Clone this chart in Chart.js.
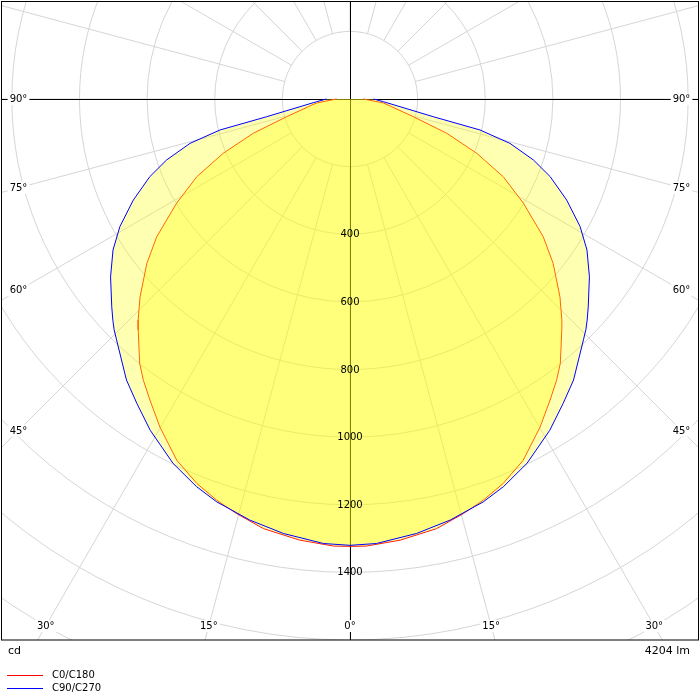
<!DOCTYPE html>
<html>
<head>
<meta charset="utf-8">
<script src="https://cdn.jsdelivr.net/npm/chart.js@4.4.1/dist/chart.umd.min.js"></script>
<style>
    html, body { margin: 0; padding: 0; background: #fff; }
    #wrap { position: relative; width: 700px; height: 700px; }
</style>
</head>
<body>
<div id="wrap"><canvas id="ldcGraph"></canvas></div>
<script>
// gamma angle from nadir (deg) and luminous intensity (cd), both halves symmetric
var c0Angles = [0, 2.1, 6.5, 11.4, 15.3, 18.4, 21.7, 25.6, 30.1, 33.6, 36.3, 38.5, 42.5, 43.8, 46.7, 51, 54.5, 59, 63.1, 66.8, 70.5, 74.4, 79.5, 83.2, 90];
var c0Values = [1323, 1323, 1313, 1296, 1271, 1250, 1224, 1185, 1121, 1069, 1032, 999, 927, 905, 853, 773, 702, 598, 508, 408, 303, 194, 125, 99, 40];
var c90Angles = [0, 3.4, 8.7, 13.4, 18.3, 21.6, 25.9, 31.1, 35, 38.5, 44.1, 45.7, 47, 48.9, 53.4, 57.5, 61, 65, 68.8, 71.6, 74.5, 76.6, 78, 85.4, 90];
var c90Values = [1320, 1317, 1300, 1280, 1255, 1233, 1198, 1144, 1099, 1062, 992, 975, 959, 935, 882, 831, 778, 707, 635, 572, 491, 395, 252, 99, 70];

var ringValues = [200, 400, 600, 800, 1000, 1200, 1400, 1600, 1800, 2000];
var ringLabels = [400, 600, 800, 1000, 1200, 1400];
var angleLabels = [0, 15, 30, 45, 60, 75, 90];
var planeNames = ['C0/C180', 'C90/C270'];
var unitText = 'cd';
var fluxText = '4204 lm';

var FONT = "'DejaVu Sans', sans-serif";
var FILL = 'rgba(255, 255, 0, 0.30)';

function toPoints(angles, values) {
    var pts = [];
    // C180 / C270 half on the left, going down to nadir
    for (var i = values.length - 1; i >= 0; i--) {
        var a = angles[i] * Math.PI / 180;
        pts.push({ x: -values[i] * Math.sin(a), y: -values[i] * Math.cos(a) });
    }
    // C0 / C90 half on the right, back up to 90
    for (var j = 1; j < values.length; j++) {
        var b = angles[j] * Math.PI / 180;
        pts.push({ x: values[j] * Math.sin(b), y: -values[j] * Math.cos(b) });
    }
    return pts;
}

function center(chart) {
    var xs = chart.scales.x, ys = chart.scales.y;
    var cx = xs.getPixelForValue(0);
    var cy = ys.getPixelForValue(0);
    return { cx: cx, cy: cy, k: xs.getPixelForValue(1000) - cx };
}

var polarGrid = {
    id: 'polarGrid',
    beforeDraw: function(chart) {
        var ctx = chart.ctx, area = chart.chartArea;
        var c = center(chart);
        var rMin = ringValues[0] * c.k / 1000;
        var rMax = ringValues[ringValues.length - 1] * c.k / 1000;
        ctx.save();
        ctx.fillStyle = '#fff';
        ctx.fillRect(0, 0, chart.width, chart.height);
        ctx.beginPath();
        ctx.rect(area.left, area.top, area.right - area.left, area.bottom - area.top);
        ctx.clip();
        ctx.strokeStyle = '#d6d6d6';
        ctx.lineWidth = 1;
        ringValues.forEach(function(v) {
            ctx.beginPath();
            ctx.arc(c.cx, c.cy, v * c.k / 1000, 0, Math.PI * 2);
            ctx.stroke();
        });
        for (var a = 0; a < 360; a += 15) {
            var t = a * Math.PI / 180;
            ctx.beginPath();
            ctx.moveTo(c.cx + rMin * Math.sin(t), c.cy + rMin * Math.cos(t));
            ctx.lineTo(c.cx + rMax * Math.sin(t), c.cy + rMax * Math.cos(t));
            ctx.stroke();
        }
        // 0-180 and 90-270 axes
        ctx.strokeStyle = '#000';
        ctx.beginPath();
        ctx.moveTo(Math.round(c.cx) + 0.5, area.top);
        ctx.lineTo(Math.round(c.cx) + 0.5, area.bottom);
        ctx.moveTo(area.left, Math.round(c.cy) + 0.5);
        ctx.lineTo(area.right, Math.round(c.cy) + 0.5);
        ctx.stroke();
        ctx.restore();
    }
};

var polarLabels = {
    id: 'polarLabels',
    afterDraw: function(chart) {
        var ctx = chart.ctx, area = chart.chartArea;
        var c = center(chart);
        ctx.save();
        ctx.font = '10px ' + FONT;
        ctx.textAlign = 'center';
        ctx.textBaseline = 'middle';
        ctx.fillStyle = '#000';

        ringLabels.forEach(function(v) {
            ctx.fillText(String(v), c.cx, c.cy + v * c.k / 1000 + 0.5);
        });

        var xl = area.left + 16.5, xr = area.right - 16.5, yb = area.bottom - 14;
        angleLabels.forEach(function(a) {
            [-1, 1].forEach(function(side) {
                if (a === 0 && side < 0) return;
                var t = a * Math.PI / 180;
                var dx = side * Math.sin(t), dy = Math.cos(t);
                var best = Infinity;
                if (Math.abs(dx) > 1e-6) best = ((side > 0 ? xr : xl) - c.cx) / dx;
                if (dy > 1e-6) best = Math.min(best, (yb - c.cy) / dy);
                var px = c.cx + best * dx, py = c.cy + best * dy;
                var txt = a + '\u00b0';
                var w = ctx.measureText(txt).width;
                ctx.fillStyle = '#fff';
                ctx.fillRect(px - w / 2 - 2, py - 6, w + 4, 12);
                ctx.fillStyle = '#000';
                ctx.fillText(txt, px, py + 0.5);
            });
        });

        // frame
        ctx.strokeStyle = '#000';
        ctx.lineWidth = 1;
        ctx.strokeRect(area.left - 0.5, area.top - 0.5, area.right - area.left + 1, area.bottom - area.top + 0.5);

        // unit and flux
        ctx.font = '11px ' + FONT;
        ctx.textBaseline = 'alphabetic';
        ctx.textAlign = 'left';
        ctx.fillText(unitText, 8, 654);
        ctx.textAlign = 'right';
        ctx.fillText(fluxText, 690, 654);

        // legend
        var colors = ['#ff0000', '#0000ff'];
        ctx.font = '10px ' + FONT;
        ctx.textAlign = 'left';
        ctx.textBaseline = 'middle';
        planeNames.forEach(function(name, i) {
            var y = 674.5 + i * 13.5;
            ctx.strokeStyle = colors[i];
            ctx.beginPath();
            ctx.moveTo(7, Math.round(y) + 0.5);
            ctx.lineTo(43, Math.round(y) + 0.5);
            ctx.stroke();
            ctx.fillStyle = '#000';
            ctx.fillText(name, 52, y + 0.5);
        });
        ctx.restore();
    }
};

var c0Points = toPoints(c0Angles, c0Values);
var c90Points = toPoints(c90Angles, c90Values);

// drawn last index first: C0 outline, C0 fill, then C90 fill and outline on top
var ldcConfig = {
    type: 'scatter',
    data: {
        datasets: [{
            label: planeNames[1],
            data: c90Points,
            showLine: true,
            borderColor: '#0000ff',
            borderWidth: 1,
            backgroundColor: FILL,
            fill: 'shape',
            pointRadius: 0,
            tension: 0
        }, {
            label: planeNames[0] + ' fill',
            data: c0Points,
            showLine: true,
            borderWidth: 0,
            borderColor: 'rgba(0,0,0,0)',
            backgroundColor: FILL,
            fill: 'shape',
            pointRadius: 0,
            tension: 0
        }, {
            label: planeNames[0],
            data: c0Points,
            showLine: true,
            borderColor: '#ff0000',
            borderWidth: 1,
            fill: false,
            pointRadius: 0,
            tension: 0
        }]
    },
    options: {
        responsive: true,
        maintainAspectRatio: false,
        animation: false,
        layout: {
            padding: { left: 2, right: 2, top: 2, bottom: 60 }
        },
        plugins: {
            legend: { display: false },
            tooltip: { enabled: false }
        },
        scales: {
            x: { type: 'linear', display: false, min: -1029.2, max: 1029.2 },
            y: { type: 'linear', display: false, min: -1600, max: 286.9 }
        }
    },
    plugins: [polarGrid, polarLabels]
};

const ldcCtx = document.getElementById('ldcGraph');
const ldcChart = new Chart(ldcCtx, ldcConfig);
</script>
</body>
</html>
